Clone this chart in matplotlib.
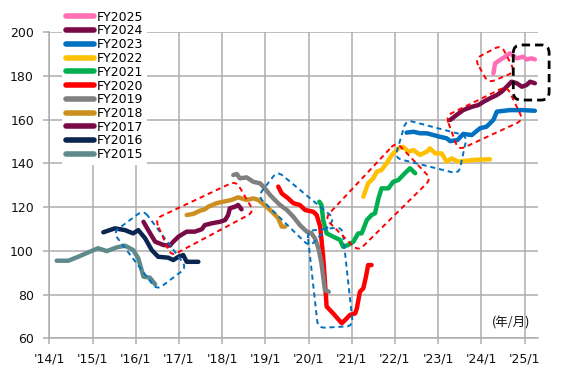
import numpy as np
import matplotlib
matplotlib.use("Agg")
import matplotlib.pyplot as plt
from matplotlib.path import Path
from matplotlib.patches import PathPatch

plt.rcParams['font.family'] = ['DejaVu Sans', 'Noto Sans CJK JP']

# ---- data (x = decimal year, y = index) ----
fy2015_x = [2014.17, 2014.44, 2014.67, 2014.90, 2015.13, 2015.33, 2015.56, 2015.75, 2015.94, 2016.06, 2016.18, 2016.33, 2016.45]
fy2015_y = [95.5, 95.5, 97.3, 99.3, 101.2, 99.9, 101.6, 102.4, 100.4, 96.6, 88.2, 87.7, 84.7]

fy2016_x = [2015.25, 2015.52, 2015.75, 2015.94, 2016.06, 2016.22, 2016.37, 2016.52, 2016.75, 2016.87, 2016.99, 2017.10, 2017.18, 2017.45]
fy2016_y = [108.5, 110.3, 109.5, 108.0, 109.5, 105.7, 100.4, 97.3, 96.9, 95.8, 97.3, 98.1, 95.0, 95.0]

fy2017_x = [2016.18, 2016.29, 2016.45, 2016.64, 2016.79, 2016.87, 2016.99, 2017.18, 2017.37, 2017.53, 2017.60, 2017.76, 2017.95, 2018.07, 2018.14, 2018.18, 2018.30, 2018.37, 2018.45]
fy2017_y = [113.3, 109.5, 104.2, 102.7, 102.4, 104.2, 106.5, 108.8, 108.8, 109.9, 111.8, 112.6, 113.3, 114.1, 116.4, 119.5, 120.2, 121.0, 119.0]

fy2018_x = [2017.18, 2017.33, 2017.49, 2017.60, 2017.68, 2017.87, 2018.03, 2018.22, 2018.37, 2018.57, 2018.72, 2018.84, 2019.03, 2019.19, 2019.30, 2019.38, 2019.46]
fy2018_y = [116.4, 116.9, 118.4, 119.0, 120.2, 121.8, 122.5, 123.3, 124.5, 123.3, 124.0, 123.3, 120.2, 117.2, 114.9, 111.1, 111.1]

fy2019_x = [2018.26, 2018.34, 2018.41, 2018.57, 2018.72, 2018.88, 2018.99, 2019.11, 2019.22, 2019.34, 2019.50, 2019.65, 2019.80, 2019.96, 2020.07, 2020.15, 2020.23, 2020.30, 2020.38, 2020.47]
fy2019_y = [134.7, 135.2, 133.2, 133.6, 131.6, 130.9, 128.6, 125.6, 123.3, 121.0, 118.7, 115.6, 111.8, 108.8, 108.0, 105.7, 101.2, 94.3, 82.1, 81.3]

fy2020_x = [2019.30, 2019.38, 2019.53, 2019.65, 2019.80, 2019.92, 2020.11, 2020.19, 2020.27, 2020.34, 2020.42, 2020.57, 2020.77, 2020.85, 2020.96, 2021.08, 2021.12, 2021.19, 2021.27, 2021.33, 2021.38, 2021.46]
fy2020_y = [129.4, 126.3, 124.0, 121.8, 121.0, 118.7, 117.9, 116.4, 111.1, 97.3, 74.5, 71.4, 66.9, 68.4, 70.7, 71.4, 73.7, 81.3, 82.9, 88.2, 93.5, 93.5]

fy2021_x = [2020.25, 2020.30, 2020.34, 2020.42, 2020.57, 2020.73, 2020.80, 2020.92, 2021.04, 2021.15, 2021.23, 2021.35, 2021.46, 2021.54, 2021.62, 2021.69, 2021.85, 2021.96, 2022.08, 2022.23, 2022.35, 2022.47]
fy2021_y = [122.5, 121.0, 114.1, 108.0, 106.5, 105.0, 101.9, 102.7, 104.2, 108.0, 108.0, 114.1, 116.4, 117.2, 124.0, 128.6, 128.6, 131.6, 132.4, 135.5, 137.8, 135.5]

fy2022_x = [2021.27, 2021.38, 2021.50, 2021.58, 2021.69, 2021.81, 2021.93, 2022.08, 2022.19, 2022.31, 2022.43, 2022.58, 2022.74, 2022.81, 2022.93, 2023.08, 2023.20, 2023.31, 2023.47, 2023.81, 2024.20]
fy2022_y = [124.8, 130.9, 133.2, 136.2, 137.0, 140.1, 143.9, 146.9, 147.6, 145.4, 146.1, 143.9, 145.4, 146.9, 144.6, 144.6, 140.8, 142.3, 140.8, 141.6, 141.9]

fy2023_x = [2022.27, 2022.43, 2022.58, 2022.74, 2022.89, 2023.04, 2023.20, 2023.28, 2023.45, 2023.58, 2023.78, 2023.97, 2024.12, 2024.28, 2024.36, 2024.66, 2024.97, 2025.24]
fy2023_y = [154.1, 154.5, 153.8, 153.8, 153.0, 152.2, 151.5, 150.2, 150.7, 153.5, 153.0, 156.1, 156.8, 159.9, 163.7, 164.4, 164.4, 164.1]

fy2024_x = [2023.28, 2023.43, 2023.58, 2023.78, 2023.93, 2024.05, 2024.20, 2024.36, 2024.47, 2024.59, 2024.70, 2024.82, 2024.94, 2025.05, 2025.13, 2025.24]
fy2024_y = [159.9, 162.2, 164.4, 165.9, 166.7, 168.2, 169.8, 171.3, 172.8, 175.1, 177.4, 176.7, 175.1, 175.9, 177.4, 176.7]

fy2025_x = [2024.28, 2024.32, 2024.43, 2024.55, 2024.66, 2024.82, 2024.97, 2025.05, 2025.16, 2025.24]
fy2025_y = [181.2, 185.8, 187.3, 188.8, 190.4, 188.1, 188.8, 187.6, 188.1, 187.6]

labels = ['FY2025', 'FY2024', 'FY2023', 'FY2022', 'FY2021', 'FY2020',
          'FY2019', 'FY2018', 'FY2017', 'FY2016', 'FY2015']
xs = [fy2025_x, fy2024_x, fy2023_x, fy2022_x, fy2021_x, fy2020_x,
      fy2019_x, fy2018_x, fy2017_x, fy2016_x, fy2015_x]
ys = [fy2025_y, fy2024_y, fy2023_y, fy2022_y, fy2021_y, fy2020_y,
      fy2019_y, fy2018_y, fy2017_y, fy2016_y, fy2015_y]
colors = ['#FF6EB4', '#7A0A45', '#0070C0', '#FFC000', '#00B050', '#FF0000',
          '#808080', '#CC9020', '#7A0A45', '#0A2550', '#5F8A8B']

year_ticks = list(range(2014, 2026))
year_labels = ["'%02d/1" % (y % 100) for y in year_ticks]

# dashed highlight boxes (corners in data coords)
boxes = [
    ([(2016.18, 118.7), (2015.48, 108.4), (2016.49, 82.1), (2017.18, 92.4)], '#0070C0'),
    ([(2016.45, 114.6), (2018.32, 132.0), (2018.74, 117.8), (2016.82, 97.6)], '#FF0000'),
    ([(2019.28, 136.5), (2018.83, 125.0), (2020.03, 101.8), (2020.61, 114.6)], '#0070C0'),
    ([(2019.97, 109.1), (2020.78, 110.9), (2021.03, 65.6), (2020.22, 64.7)], '#0070C0'),
    ([(2022.03, 149.8), (2022.84, 132.9), (2021.15, 99.9), (2020.38, 115.0)], '#FF0000'),
    ([(2022.26, 159.9), (2023.67, 152.6), (2023.48, 135.2), (2022.00, 142.5)], '#0070C0'),
    ([(2023.18, 161.7), (2024.59, 175.4), (2024.97, 159.8), (2023.47, 146.1)], '#FF0000'),
    ([(2023.85, 187.8), (2024.46, 194.2), (2024.78, 181.9), (2024.16, 176.8)], '#FF0000'),
]
black_box = [(2024.74, 194.2), (2025.57, 194.2), (2025.57, 169.0), (2024.74, 169.0)]


def rounded_box(ax, corners, r, **kw):
    pts = ax.transData.transform(corners)
    n = len(pts)
    verts, codes = [], []
    for i in range(n):
        p0, p1, p2 = pts[i - 1], pts[i], pts[(i + 1) % n]
        d1 = (p0 - p1) / np.hypot(*(p0 - p1))
        d2 = (p2 - p1) / np.hypot(*(p2 - p1))
        verts += [p1 + d1 * r, p1, p1 + d2 * r]
        codes += [Path.MOVETO if i == 0 else Path.LINETO, Path.CURVE3, Path.CURVE3]
    verts.append(verts[0])
    codes.append(Path.LINETO)
    verts = ax.transData.inverted().transform(verts)
    ax.add_patch(PathPatch(Path(verts, codes), fill=False, **kw))


fig = plt.figure(figsize=(5.68, 3.78), dpi=100)
ax = fig.add_axes([49.3 / 568, 39.7 / 378, 489 / 568, 306 / 378])
ax.set_xlim(2014, 2014 + 489 / 43.2)
ax.set_ylim(60, 200)

grid_c = '#ADADAD'
ax.set_xticks(year_ticks)
ax.set_xticklabels(year_labels)
ax.set_yticks(range(60, 201, 20))
ax.grid(True, color=grid_c, linewidth=1.1, zorder=0)
ax.set_axisbelow(True)
for s in ['top', 'right']:
    ax.spines[s].set_visible(False)
for s in ['left', 'bottom']:
    ax.spines[s].set_color(grid_c)
    ax.spines[s].set_linewidth(1.1)
ax.tick_params(length=4, width=1.1, color=grid_c, labelsize=9, labelcolor='#111111')
ax.tick_params(axis='x', pad=6)
ax.tick_params(axis='y', pad=7)

for x, y, c, lab in zip(xs, ys, colors, labels):
    ax.plot(x, y, color=c, linewidth=3.2, label=lab,
            solid_capstyle='round', solid_joinstyle='round', zorder=3)

for corners, c in boxes:
    rounded_box(ax, corners, 7, edgecolor=c, linewidth=1.4,
                linestyle=(0, (2.6, 2.0)), zorder=4, clip_on=False)
rounded_box(ax, black_box, 8, edgecolor='black', linewidth=2.0,
            linestyle=(0, (3.0, 1.8)), zorder=4, clip_on=False)

ax.text(0.983, 0.05, '(年/月)', transform=ax.transAxes, ha='right', va='center',
        fontsize=9, color='#111111', family=['Noto Sans CJK JP', 'DejaVu Sans'])

leg = fig.legend(loc='upper left', bbox_to_anchor=(62 / 568, 1 - 7 / 378),
                 frameon=True, fancybox=False, edgecolor='none', facecolor='white',
                 framealpha=1, fontsize=9, handlelength=2.3, handletextpad=0.2,
                 labelspacing=0.06, borderpad=0.3, borderaxespad=0)
for h in leg.get_lines():
    h.set_linewidth(4)
leg.set_zorder(10)

fig.savefig('out.png', dpi=100)
